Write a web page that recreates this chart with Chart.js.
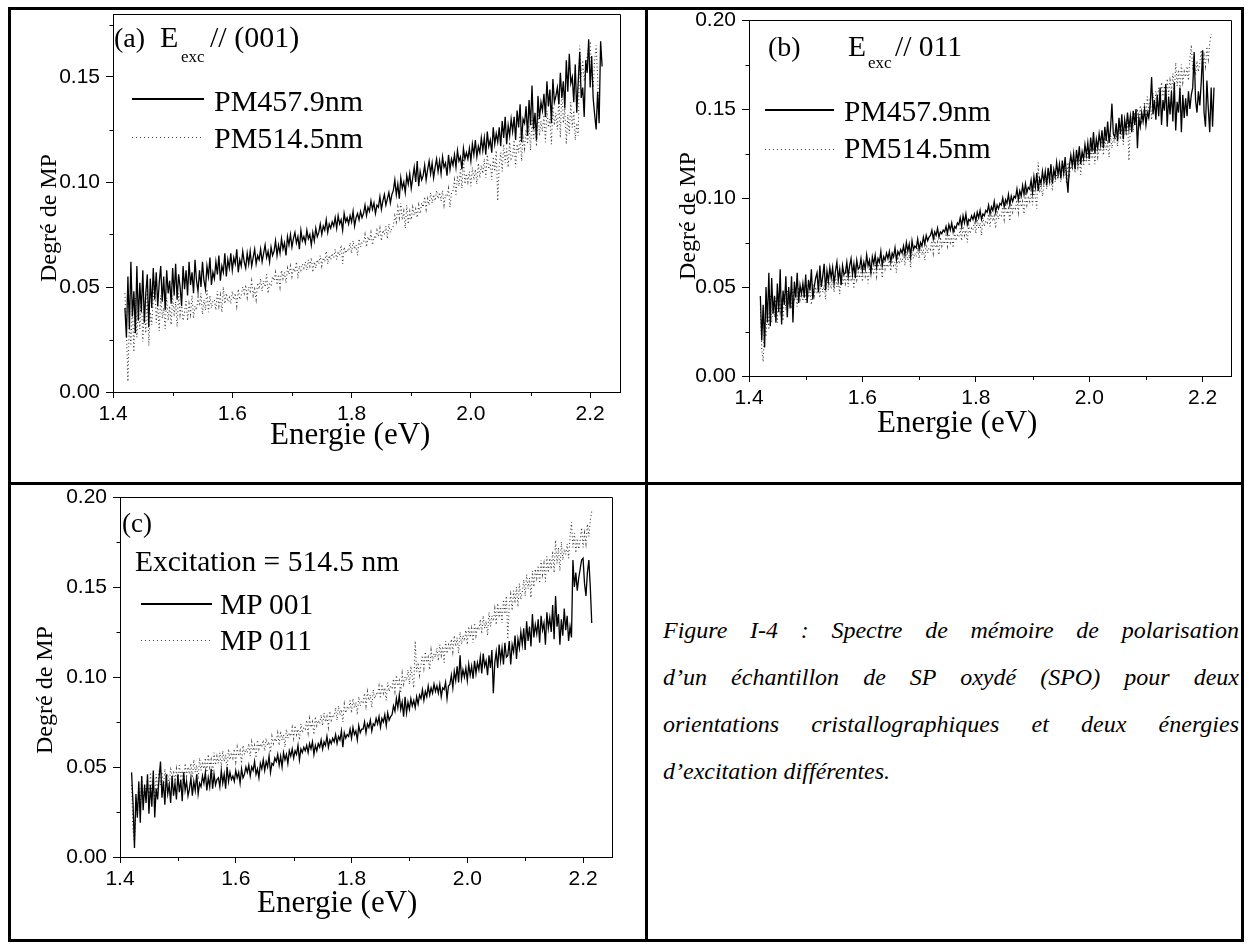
<!DOCTYPE html>
<html><head><meta charset="utf-8">
<script src="https://cdn.jsdelivr.net/npm/chart.js@4.4.0/dist/chart.umd.min.js"></script>
<style>
html,body{margin:0;padding:0;background:#fff;}
body{width:1249px;height:947px;position:relative;overflow:hidden;}
.b{position:absolute;background:#000;z-index:5;}
canvas{position:absolute;z-index:1;}
.t{position:absolute;white-space:nowrap;color:#000;font-family:"Liberation Serif","Times New Roman",serif;line-height:1;z-index:3;}
.ls{position:absolute;height:2px;background:#000;z-index:3;}
.ld{position:absolute;height:1px;background:repeating-linear-gradient(to right,#444 0 1px,transparent 1px 4px);z-index:3;}
.yt{position:absolute;white-space:nowrap;font-family:"Liberation Serif",serif;line-height:1;transform:translate(-50%,-50%) rotate(-90deg);z-index:3;}
.cap{position:absolute;left:663px;width:576px;font-family:"Liberation Serif",serif;font-style:italic;font-size:24px;line-height:1;white-space:nowrap;text-align:justify;text-align-last:justify;}
.cap.last{text-align:left;text-align-last:left;}
</style></head>
<body>
<canvas id="ca" width="647" height="503" style="left:0;top:-20px"></canvas>
<canvas id="cb" width="602" height="503" style="left:647px;top:-20px"></canvas>
<canvas id="cc" width="647" height="484" style="left:0;top:463px"></canvas>

<div class="b" style="left:8px;top:7px;width:1236px;height:3px"></div>
<div class="b" style="left:8px;top:939px;width:1236px;height:3px"></div>
<div class="b" style="left:8px;top:7px;width:3px;height:935px"></div>
<div class="b" style="left:1241px;top:7px;width:3px;height:935px"></div>
<div class="b" style="left:645px;top:7px;width:3px;height:935px"></div>
<div class="b" style="left:8px;top:482px;width:1236px;height:3px"></div>

<!-- (a) -->
<div class="t" style="left:114px;top:23.5px;font-size:28px">(a)</div>
<div class="t" style="left:160px;top:21.9px;font-size:30px">E</div>
<div class="t" style="left:181px;top:47.8px;font-size:17px">exc</div>
<div class="t" style="left:210px;top:21.9px;font-size:30px">// (001)</div>
<div class="ls" style="left:132px;top:98px;width:72px"></div>
<div class="t" style="left:214px;top:85.9px;font-size:30px">PM457.9nm</div>
<div class="ld" style="left:132px;top:137px;width:72px"></div>
<div class="t" style="left:214px;top:122.9px;font-size:30px">PM514.5nm</div>
<div class="t" style="left:270px;top:418px;font-size:31px">Energie (eV)</div>
<div class="yt" style="left:48px;top:218px;font-size:24px">Degré de MP</div>

<!-- (b) -->
<div class="t" style="left:768px;top:32.5px;font-size:28px">(b)</div>
<div class="t" style="left:848px;top:32.3px;font-size:29.5px">E</div>
<div class="t" style="left:868px;top:53.8px;font-size:17px">exc</div>
<div class="t" style="left:895px;top:32.3px;font-size:29.5px">// 011</div>
<div class="ls" style="left:765px;top:109px;width:69px"></div>
<div class="t" style="left:844px;top:97.3px;font-size:29.5px">PM457.9nm</div>
<div class="ld" style="left:765px;top:149px;width:69px"></div>
<div class="t" style="left:844px;top:134.3px;font-size:29.5px">PM514.5nm</div>
<div class="t" style="left:877px;top:406px;font-size:31px">Energie (eV)</div>
<div class="yt" style="left:687px;top:216px;font-size:24px">Degré de MP</div>

<!-- (c) -->
<div class="t" style="left:122px;top:510.4px;font-size:27px">(c)</div>
<div class="t" style="left:135px;top:547.3px;font-size:29.5px">Excitation = 514.5 nm</div>
<div class="ls" style="left:141px;top:603px;width:71px"></div>
<div class="t" style="left:220px;top:590.3px;font-size:29.5px">MP 001</div>
<div class="ld" style="left:141px;top:640px;width:71px"></div>
<div class="t" style="left:220px;top:626.3px;font-size:29.5px">MP 011</div>
<div class="t" style="left:257px;top:886px;font-size:31px">Energie (eV)</div>
<div class="yt" style="left:44px;top:690px;font-size:24px">Degré de MP</div>

<!-- caption -->
<div class="cap" style="top:617.9px">Figure I-4 : Spectre de mémoire de polarisation</div>
<div class="cap" style="top:664.9px">d’un échantillon de SP oxydé (SPO) pour deux</div>
<div class="cap" style="top:711.9px">orientations cristallographiques et deux énergies</div>
<div class="cap last" style="top:758.9px">d’excitation différentes.</div>

<script>
const energies = [
1.4200,1.4225,1.4250,1.4275,1.4300,1.4325,1.4350,1.4375,1.4400,1.4425,
1.4450,1.4475,1.4500,1.4525,1.4550,1.4575,1.4600,1.4625,1.4650,1.4675,
1.4700,1.4725,1.4750,1.4775,1.4800,1.4825,1.4850,1.4875,1.4900,1.4925,
1.4950,1.4975,1.5000,1.5025,1.5050,1.5075,1.5100,1.5125,1.5150,1.5175,
1.5200,1.5225,1.5250,1.5275,1.5300,1.5325,1.5350,1.5375,1.5400,1.5425,
1.5450,1.5475,1.5500,1.5525,1.5550,1.5575,1.5600,1.5625,1.5650,1.5675,
1.5700,1.5725,1.5750,1.5775,1.5800,1.5825,1.5850,1.5875,1.5900,1.5925,
1.5950,1.5975,1.6000,1.6025,1.6050,1.6075,1.6100,1.6125,1.6150,1.6175,
1.6200,1.6225,1.6250,1.6275,1.6300,1.6325,1.6350,1.6375,1.6400,1.6425,
1.6450,1.6475,1.6500,1.6525,1.6550,1.6575,1.6600,1.6625,1.6650,1.6675,
1.6700,1.6725,1.6750,1.6775,1.6800,1.6825,1.6850,1.6875,1.6900,1.6925,
1.6950,1.6975,1.7000,1.7025,1.7050,1.7075,1.7100,1.7125,1.7150,1.7175,
1.7200,1.7225,1.7250,1.7275,1.7300,1.7325,1.7350,1.7375,1.7400,1.7425,
1.7450,1.7475,1.7500,1.7525,1.7550,1.7575,1.7600,1.7625,1.7650,1.7675,
1.7700,1.7725,1.7750,1.7775,1.7800,1.7825,1.7850,1.7875,1.7900,1.7925,
1.7950,1.7975,1.8000,1.8025,1.8050,1.8075,1.8100,1.8125,1.8150,1.8175,
1.8200,1.8225,1.8250,1.8275,1.8300,1.8325,1.8350,1.8375,1.8400,1.8425,
1.8450,1.8475,1.8500,1.8525,1.8550,1.8575,1.8600,1.8625,1.8650,1.8675,
1.8700,1.8725,1.8750,1.8775,1.8800,1.8825,1.8850,1.8875,1.8900,1.8925,
1.8950,1.8975,1.9000,1.9025,1.9050,1.9075,1.9100,1.9125,1.9150,1.9175,
1.9200,1.9225,1.9250,1.9275,1.9300,1.9325,1.9350,1.9375,1.9400,1.9425,
1.9450,1.9475,1.9500,1.9525,1.9550,1.9575,1.9600,1.9625,1.9650,1.9675,
1.9700,1.9725,1.9750,1.9775,1.9800,1.9825,1.9850,1.9875,1.9900,1.9925,
1.9950,1.9975,2.0000,2.0025,2.0050,2.0075,2.0100,2.0125,2.0150,2.0175,
2.0200,2.0225,2.0250,2.0275,2.0300,2.0325,2.0350,2.0375,2.0400,2.0425,
2.0450,2.0475,2.0500,2.0525,2.0550,2.0575,2.0600,2.0625,2.0650,2.0675,
2.0700,2.0725,2.0750,2.0775,2.0800,2.0825,2.0850,2.0875,2.0900,2.0925,
2.0950,2.0975,2.1000,2.1025,2.1050,2.1075,2.1100,2.1125,2.1150,2.1175,
2.1200,2.1225,2.1250,2.1275,2.1300,2.1325,2.1350,2.1375,2.1400,2.1425,
2.1450,2.1475,2.1500,2.1525,2.1550,2.1575,2.1600,2.1625,2.1650,2.1675,
2.1700,2.1725,2.1750,2.1775,2.1800,2.1825,2.1850,2.1875,2.1900,2.1925,
2.1950,2.1975,2.2000,2.2025,2.2050,2.2075,2.2100,2.2125,2.2150,2.2175,
2.2200];

// PM 457.9 nm, E_exc // (001)
const pm457_001 = [
0.040,0.026,0.055,0.030,0.062,0.036,0.048,0.028,0.060,0.034,
0.052,0.038,0.058,0.033,0.047,0.056,0.031,0.054,0.040,0.059,
0.044,0.057,0.041,0.052,0.060,0.043,0.055,0.039,0.058,0.047,
0.053,0.042,0.059,0.046,0.061,0.044,0.056,0.050,0.041,0.060,
0.049,0.058,0.046,0.062,0.051,0.057,0.047,0.063,0.053,0.048,
0.058,0.050,0.062,0.053,0.049,0.060,0.055,0.064,0.051,0.057,
0.054,0.062,0.056,0.065,0.053,0.060,0.057,0.066,0.055,0.063,
0.059,0.066,0.058,0.064,0.061,0.068,0.057,0.063,0.060,0.067,
0.062,0.059,0.066,0.061,0.067,0.060,0.064,0.068,0.061,0.065,
0.063,0.068,0.062,0.066,0.070,0.064,0.067,0.062,0.069,0.065,
0.067,0.072,0.065,0.070,0.066,0.073,0.068,0.071,0.065,0.074,
0.070,0.075,0.069,0.073,0.076,0.071,0.074,0.068,0.077,0.072,
0.074,0.071,0.077,0.073,0.075,0.070,0.076,0.072,0.078,0.074,
0.076,0.080,0.075,0.079,0.077,0.082,0.076,0.080,0.078,0.081,
0.079,0.083,0.078,0.084,0.080,0.082,0.077,0.085,0.081,0.083,
0.080,0.084,0.081,0.086,0.079,0.083,0.085,0.082,0.086,0.083,
0.085,0.089,0.084,0.088,0.086,0.091,0.087,0.090,0.085,0.089,
0.088,0.093,0.087,0.091,0.094,0.089,0.092,0.095,0.090,0.094,
0.096,0.101,0.094,0.099,0.092,0.102,0.097,0.100,0.095,0.103,
0.099,0.104,0.097,0.102,0.107,0.100,0.110,0.098,0.105,0.101,
0.103,0.108,0.101,0.106,0.110,0.104,0.109,0.102,0.107,0.111,
0.105,0.110,0.104,0.112,0.107,0.109,0.103,0.113,0.106,0.111,
0.108,0.113,0.107,0.115,0.110,0.112,0.106,0.116,0.111,0.114,
0.111,0.116,0.110,0.118,0.113,0.120,0.112,0.117,0.114,0.121,
0.115,0.121,0.113,0.124,0.117,0.120,0.114,0.126,0.118,0.123,
0.119,0.126,0.117,0.129,0.121,0.131,0.118,0.127,0.122,0.130,
0.124,0.131,0.120,0.134,0.126,0.137,0.119,0.130,0.128,0.136,
0.122,0.139,0.127,0.146,0.125,0.133,0.120,0.141,0.130,0.138,
0.134,0.142,0.131,0.148,0.136,0.144,0.128,0.149,0.138,0.141,
0.145,0.137,0.152,0.140,0.148,0.135,0.158,0.143,0.161,0.147,
0.150,0.138,0.156,0.133,0.148,0.162,0.140,0.145,0.131,0.158,
0.152,0.168,0.145,0.160,0.140,0.132,0.125,0.143,0.128,0.167,
0.155];

// PM 514.5 nm, E_exc // (001)  (= MP 001)
const pm514_001 = [
0.047,0.030,0.005,0.035,0.022,0.042,0.019,0.045,0.026,0.040,
0.030,0.046,0.024,0.040,0.028,0.048,0.022,0.038,0.032,0.044,
0.053,0.033,0.042,0.029,0.046,0.035,0.040,0.030,0.045,0.034,
0.041,0.032,0.046,0.036,0.043,0.031,0.047,0.037,0.042,0.034,
0.038,0.044,0.034,0.042,0.037,0.046,0.035,0.041,0.039,0.045,
0.041,0.047,0.037,0.044,0.039,0.049,0.038,0.046,0.040,0.043,
0.044,0.039,0.048,0.041,0.046,0.038,0.050,0.042,0.047,0.043,
0.045,0.042,0.048,0.044,0.047,0.041,0.049,0.044,0.046,0.050,
0.047,0.051,0.045,0.050,0.048,0.053,0.046,0.049,0.044,0.052,
0.049,0.054,0.048,0.053,0.050,0.056,0.047,0.052,0.051,0.055,
0.053,0.057,0.051,0.056,0.050,0.058,0.054,0.057,0.052,0.059,
0.056,0.060,0.055,0.059,0.057,0.062,0.054,0.060,0.058,0.061,
0.059,0.062,0.058,0.063,0.060,0.064,0.057,0.062,0.059,0.063,
0.061,0.065,0.060,0.064,0.062,0.067,0.061,0.065,0.063,0.066,
0.064,0.068,0.063,0.067,0.065,0.070,0.061,0.069,0.066,0.068,
0.067,0.071,0.066,0.072,0.068,0.070,0.065,0.073,0.069,0.071,
0.071,0.075,0.069,0.074,0.072,0.076,0.070,0.074,0.073,0.077,
0.074,0.078,0.072,0.077,0.075,0.079,0.073,0.080,0.076,0.078,
0.079,0.084,0.081,0.088,0.083,0.090,0.082,0.086,0.078,0.089,
0.080,0.086,0.082,0.088,0.084,0.087,0.083,0.089,0.085,0.090,
0.088,0.093,0.087,0.092,0.089,0.095,0.090,0.094,0.091,0.096,
0.092,0.095,0.091,0.096,0.089,0.094,0.093,0.097,0.088,0.095,
0.096,0.101,0.094,0.103,0.098,0.106,0.097,0.112,0.099,0.104,
0.100,0.105,0.098,0.107,0.101,0.106,0.099,0.109,0.102,0.108,
0.104,0.111,0.102,0.113,0.106,0.109,0.101,0.112,0.105,0.115,
0.091,0.108,0.114,0.105,0.118,0.109,0.116,0.107,0.119,0.111,
0.112,0.120,0.107,0.118,0.114,0.123,0.110,0.121,0.116,0.125,
0.118,0.127,0.115,0.131,0.120,0.128,0.117,0.135,0.122,0.129,
0.124,0.132,0.119,0.134,0.126,0.130,0.118,0.136,0.127,0.133,
0.125,0.140,0.121,0.145,0.128,0.135,0.118,0.132,0.123,0.138,
0.126,0.134,0.120,0.128,0.122,0.165,0.150,0.158,0.148,0.155,
0.160,0.165,0.166,0.152,0.145,0.158,0.165,0.150,0.130,null,
null];

// PM 457.9 nm, E_exc // 011
const pm457_011 = [
0.045,0.020,0.040,0.016,0.050,0.030,0.058,0.028,0.055,0.035,
0.045,0.030,0.052,0.036,0.060,0.029,0.048,0.040,0.056,0.033,
0.050,0.038,0.056,0.030,0.053,0.044,0.058,0.041,0.051,0.046,
0.052,0.044,0.057,0.041,0.054,0.048,0.060,0.043,0.050,0.055,
0.058,0.047,0.062,0.050,0.056,0.063,0.048,0.059,0.053,0.061,
0.055,0.061,0.052,0.059,0.064,0.054,0.060,0.051,0.062,0.057,
0.058,0.064,0.056,0.062,0.066,0.057,0.063,0.055,0.065,0.060,
0.061,0.066,0.059,0.064,0.060,0.068,0.062,0.065,0.058,0.067,
0.063,0.068,0.061,0.066,0.064,0.070,0.062,0.067,0.065,0.069,
0.066,0.070,0.064,0.069,0.067,0.072,0.065,0.070,0.068,0.071,
0.069,0.073,0.068,0.075,0.070,0.074,0.067,0.076,0.071,0.073,
0.072,0.077,0.071,0.075,0.073,0.078,0.074,0.079,0.076,0.078,
0.079,0.082,0.077,0.081,0.079,0.083,0.078,0.081,0.080,0.082,
0.081,0.084,0.080,0.085,0.082,0.086,0.081,0.084,0.083,0.086,
0.085,0.089,0.084,0.090,0.086,0.091,0.085,0.088,0.087,0.090,
0.088,0.091,0.087,0.092,0.089,0.093,0.088,0.091,0.090,0.093,
0.092,0.096,0.091,0.095,0.093,0.098,0.092,0.096,0.094,0.097,
0.096,0.100,0.095,0.099,0.097,0.102,0.096,0.101,0.098,0.101,
0.100,0.105,0.099,0.104,0.101,0.107,0.102,0.108,0.103,0.106,
0.105,0.110,0.103,0.112,0.106,0.114,0.104,0.111,0.108,0.115,
0.109,0.115,0.107,0.117,0.110,0.119,0.108,0.116,0.112,0.120,
0.113,0.119,0.111,0.121,0.114,0.123,0.112,0.103,0.118,0.124,
0.118,0.125,0.116,0.127,0.120,0.129,0.119,0.126,0.122,0.130,
0.124,0.131,0.122,0.134,0.126,0.137,0.125,0.133,0.128,0.136,
0.130,0.138,0.128,0.140,0.132,0.143,0.131,0.139,0.153,0.136,
0.134,0.142,0.132,0.145,0.136,0.147,0.133,0.144,0.138,0.148,
0.139,0.146,0.137,0.149,0.141,0.150,0.128,0.145,0.140,0.148,
0.143,0.150,0.141,0.148,0.145,0.152,0.168,0.147,0.155,0.144,
0.158,0.146,0.162,0.141,0.155,0.149,0.164,0.140,0.157,0.147,
0.160,0.143,0.165,0.138,0.154,0.148,0.162,0.137,0.158,0.145,
0.156,0.146,0.160,0.150,0.158,0.162,0.182,0.155,0.148,0.160,
0.152,0.165,0.183,0.148,0.140,0.166,0.150,0.137,0.162,0.140,
0.162];

// PM 514.5 nm, E_exc // 011  (= MP 011)
const pm514_011 = [
0.040,0.015,0.008,0.030,0.022,0.038,0.026,0.045,0.030,0.041,
0.033,0.044,0.030,0.047,0.036,0.042,0.031,0.046,0.037,0.048,
0.040,0.047,0.038,0.049,0.042,0.046,0.039,0.050,0.043,0.048,
0.042,0.049,0.041,0.051,0.044,0.048,0.040,0.052,0.045,0.050,
0.046,0.052,0.044,0.054,0.047,0.051,0.043,0.055,0.048,0.053,
0.049,0.055,0.047,0.057,0.050,0.054,0.046,0.058,0.051,0.056,
0.052,0.058,0.050,0.059,0.053,0.057,0.049,0.060,0.054,0.058,
0.055,0.060,0.053,0.061,0.056,0.059,0.052,0.062,0.057,0.060,
0.058,0.063,0.056,0.064,0.059,0.062,0.055,0.065,0.060,0.063,
0.061,0.065,0.059,0.066,0.062,0.064,0.058,0.067,0.063,0.066,
0.064,0.069,0.062,0.070,0.065,0.068,0.061,0.071,0.066,0.069,
0.067,0.072,0.066,0.073,0.068,0.071,0.065,0.074,0.069,0.072,
0.071,0.076,0.069,0.077,0.072,0.075,0.068,0.078,0.073,0.076,
0.074,0.079,0.073,0.080,0.075,0.078,0.072,0.081,0.076,0.079,
0.078,0.083,0.076,0.084,0.079,0.082,0.075,0.085,0.080,0.083,
0.082,0.087,0.080,0.088,0.083,0.086,0.079,0.089,0.084,0.087,
0.086,0.091,0.084,0.092,0.087,0.090,0.083,0.093,0.088,0.091,
0.090,0.095,0.088,0.096,0.091,0.094,0.087,0.097,0.092,0.095,
0.094,0.099,0.092,0.101,0.095,0.098,0.091,0.102,0.096,0.100,
0.098,0.104,0.096,0.106,0.100,0.094,0.120,0.103,0.108,0.101,
0.107,0.112,0.105,0.114,0.108,0.111,0.104,0.115,0.109,0.113,
0.111,0.116,0.109,0.118,0.112,0.117,0.108,0.120,0.113,0.118,
0.116,0.121,0.114,0.123,0.117,0.122,0.113,0.125,0.118,0.123,
0.120,0.126,0.118,0.128,0.122,0.127,0.119,0.130,0.123,0.128,
0.126,0.132,0.124,0.134,0.127,0.131,0.123,0.136,0.128,0.134,
0.131,0.138,0.129,0.141,0.133,0.139,0.130,0.143,0.135,0.145,
0.121,0.140,0.146,0.137,0.148,0.141,0.150,0.139,0.152,0.143,
0.147,0.154,0.145,0.157,0.149,0.155,0.144,0.159,0.150,0.160,
0.155,0.162,0.152,0.165,0.157,0.163,0.153,0.167,0.158,0.166,
0.160,0.170,0.158,0.176,0.163,0.172,0.159,0.175,0.165,0.171,
0.168,0.174,0.166,0.178,0.186,0.172,0.180,0.169,0.177,0.171,
0.176,0.183,0.172,0.180,0.174,0.185,0.178,0.187,0.192,null,
null];

const xTickValues = [1.4, 1.6, 1.8, 2.0, 2.2];
const xMinorValues = [1.5, 1.7, 1.9, 2.1];
const yTickValuesA = [0, 0.05, 0.10, 0.15];
const yTickValuesBC = [0, 0.05, 0.10, 0.15, 0.20];
const yMinorValues = [0.025, 0.075, 0.125, 0.175];

const framePlugin = {
  id: 'frame',
  afterDraw(chart, args, opts) {
    const {ctx, chartArea: a, scales} = chart;
    ctx.save();
    ctx.strokeStyle = '#000';
    ctx.lineWidth = 1;
    const L = Math.round(a.left) + 0.5, T = Math.round(a.top) + 0.5;
    const R = Math.round(a.right) + 0.5, B = Math.round(a.bottom) + 0.5;
    ctx.beginPath();
    ctx.moveTo(L, T); ctx.lineTo(R, T); ctx.lineTo(R, B);
    ctx.stroke();
    ctx.beginPath();
    xMinorValues.forEach(v => {
      const px = Math.round(scales.x.getPixelForValue(v)) + 0.5;
      ctx.moveTo(px, B); ctx.lineTo(px, B + 3.5);
    });
    yMinorValues.forEach(v => {
      if (v > scales.y.max) return;
      const py = Math.round(scales.y.getPixelForValue(v)) + 0.5;
      ctx.moveTo(L, py); ctx.lineTo(L - 4, py);
    });
    ctx.stroke();
    ctx.restore();
  }
};

function pts(arr) { return energies.map((e, i) => ({x: e, y: arr[i]})); }

function makeChart(id, c) {
  new Chart(document.getElementById(id), {
    type: 'line',
    data: { datasets: [
      {label: c.labels[0], data: pts(c.s1), borderColor: '#000', borderWidth: 1.3,
       pointRadius: 0, tension: 0, spanGaps: false},
      {label: c.labels[1], data: pts(c.s2), borderColor: '#3a3a3a', borderWidth: 1.1,
       borderDash: [1, 2.6], pointRadius: 0, tension: 0, spanGaps: false}
    ]},
    options: {
      animation: false, responsive: false, devicePixelRatio: 1, events: [],
      layout: {padding: {left: 0, top: c.pt, right: c.pr, bottom: 0}},
      plugins: {legend: {display: false}, tooltip: {enabled: false}, frame: {}},
      scales: {
        x: {
          type: 'linear', min: 1.4, max: 2.25,
          afterBuildTicks: s => { s.ticks = xTickValues.map(v => ({value: v})); },
          afterFit: s => { s.height = c.xh; },
          grid: {drawOnChartArea: false, drawTicks: true, tickLength: 6, color: '#000', lineWidth: 1},
          border: {display: true, color: '#000', width: 1},
          ticks: {autoSkip: false, maxRotation: 0, minRotation: 0, color: '#000', padding: 4,
                  font: {family: 'Liberation Sans', size: 21},
                  callback: v => Number(v).toFixed(1)}
        },
        y: {
          type: 'linear', min: 0, max: c.ymax,
          afterBuildTicks: s => { s.ticks = c.yt.map(v => ({value: v})); },
          afterFit: s => { s.width = c.yw; },
          grid: {drawOnChartArea: false, drawTicks: true, tickLength: 7, color: '#000', lineWidth: 1},
          border: {display: true, color: '#000', width: 1},
          ticks: {autoSkip: false, color: '#000', padding: 6,
                  font: {family: 'Liberation Sans', size: 21},
                  callback: v => Number(v).toFixed(2)}
        }
      }
    },
    plugins: [framePlugin]
  });
}

makeChart('ca', {labels: ['PM457.9nm', 'PM514.5nm'], s1: pm457_001, s2: pm514_001,
  ymax: 0.18, yt: yTickValuesA, pt: 34, pr: 27, yw: 113, xh: 91});
makeChart('cb', {labels: ['PM457.9nm', 'PM514.5nm'], s1: pm457_011, s2: pm514_011,
  ymax: 0.20, yt: yTickValuesBC, pt: 40, pr: 18, yw: 102, xh: 107});
makeChart('cc', {labels: ['MP 001', 'MP 011'], s1: pm514_001, s2: pm514_011,
  ymax: 0.20, yt: yTickValuesBC, pt: 34, pr: 35, yw: 120, xh: 90});
</script>
</body></html>
